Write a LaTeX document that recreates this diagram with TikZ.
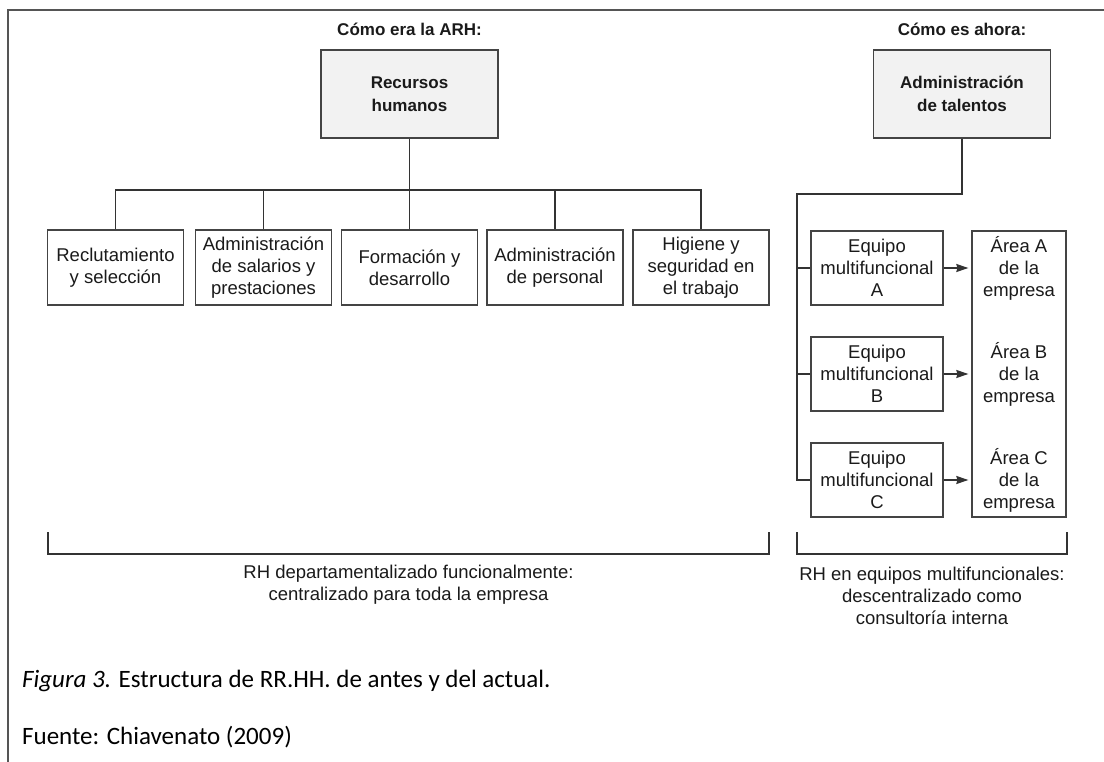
\documentclass[tikz,border=0pt]{standalone}
\usepackage{fontspec}
\setmainfont{Liberation Sans}
\newfontfamily\calib{Carlito}
\usetikzlibrary{arrows.meta}
\definecolor{linec}{HTML}{333333}
\definecolor{boxc}{HTML}{444444}
\definecolor{topfill}{HTML}{F2F2F2}
\definecolor{framec}{HTML}{555555}
\definecolor{txt}{HTML}{1A1A1A}
\begin{document}
\begin{tikzpicture}[x=1pt,y=-1pt,
  every node/.style={font=\fontsize{18.5}{22}\selectfont, align=center, inner sep=0pt, text=txt},
  topbox/.style={draw=boxc, line width=1.4pt, fill=topfill, minimum width=177pt, minimum height=88pt, font=\bfseries\fontsize{17}{23}\selectfont},
  subbox/.style={draw=boxc, line width=1.3pt, minimum width=136pt, minimum height=75pt},
  eqbox/.style={draw=boxc, line width=1.3pt, minimum width=132pt, minimum height=74pt},
  areabox/.style={draw=boxc, line width=1.3pt, minimum width=94pt, minimum height=286pt},
  conn/.style={draw=linec, line width=1.3pt},
  arrowc/.style={conn, -{Stealth[length=12pt,width=8pt,inset=1pt]}, shorten >=3pt},
  heading/.style={font=\bfseries\fontsize{17}{20}\selectfont},
  captxt/.style={anchor=west, font=\calib\fontsize{25}{30}\selectfont, text=black},
]
\useasboundingbox (0,0) rectangle (1104,762);
\draw[draw=framec, line width=1.8pt] (8,762) -- (8,10) -- (1104,10);

% left tree
\node[heading] (h1) at (409.5,29) {Cómo era la ARH:};
\node[topbox] (rh) at (409.5,94) {Recursos\\humanos};
\node[subbox] (s1) at (115.5,267.5) {Reclutamiento\\y selección};
\node[subbox] (s2) at (263.5,267.5) {Administración\\de salarios y\\prestaciones};
\node[subbox] (s3) at (409.5,267.5) {Formación y\\desarrollo};
\node[subbox] (s4) at (555,267.5) {Administración\\de personal};
\node[subbox] (s5) at (701,267.5) {Higiene y\\seguridad en\\el trabajo};
\coordinate (bus) at (409.5,190);
\draw[conn] (rh.south) -- (s3.north);
\draw[conn] (s1.north) -- (s1.north |- bus) -- (s5.north |- bus) -- (s5.north);
\draw[conn] (s2.north) -- (s2.north |- bus);
\draw[conn] (s4.north) -- (s4.north |- bus);

% right tree
\node[heading] (h2) at (962,29) {Cómo es ahora:};
\node[topbox] (at) at (962,94) {Administración\\de talentos};
\node[eqbox] (ea) at (877,268) {Equipo\\multifuncional\\A};
\node[eqbox] (eb) at (877,374) {Equipo\\multifuncional\\B};
\node[eqbox] (ec) at (877,480) {Equipo\\multifuncional\\C};
\node[areabox] (area) at (1019,374) {};
\node (ta) at (1019,268) {Área A\\de la\\empresa};
\node (tb) at (1019,374) {Área B\\de la\\empresa};
\node (tc) at (1019,480) {Área C\\de la\\empresa};
\coordinate (sp) at (797,194);
\draw[conn] (at.south) -- (at.south |- sp) -- (sp) |- (ec.west);
\draw[conn] (sp |- ea.west) -- (ea.west);
\draw[conn] (sp |- eb.west) -- (eb.west);
\draw[arrowc] (ea.east) -- (ea.east -| area.west);
\draw[arrowc] (eb.east) -- (eb.east -| area.west);
\draw[arrowc] (ec.east) -- (ec.east -| area.west);

% brackets
\coordinate (b1a) at (48,532);
\coordinate (b1b) at (769,532);
\coordinate (b2a) at (797,532);
\coordinate (b2b) at (1067,532);
\draw[conn] (b1a) -- ++(0,22) -| (b1b);
\draw[conn] (b2a) -- ++(0,22) -| (b2b);
\node (l1) at (408.5,585) {RH departamentalizado funcionalmente:\\centralizado para toda la empresa};
\node (l2) at (932,596) {RH en equipos multifuncionales:\\descentralizado como\\consultoría interna};

% caption
\node[captxt] (cap) at (22,681) {\textit{Figura 3.} Estructura de RR.HH. de antes y del actual.};
\node[captxt] (src) at (22,737) {Fuente: Chiavenato (2009)};
\end{tikzpicture}
\end{document}
